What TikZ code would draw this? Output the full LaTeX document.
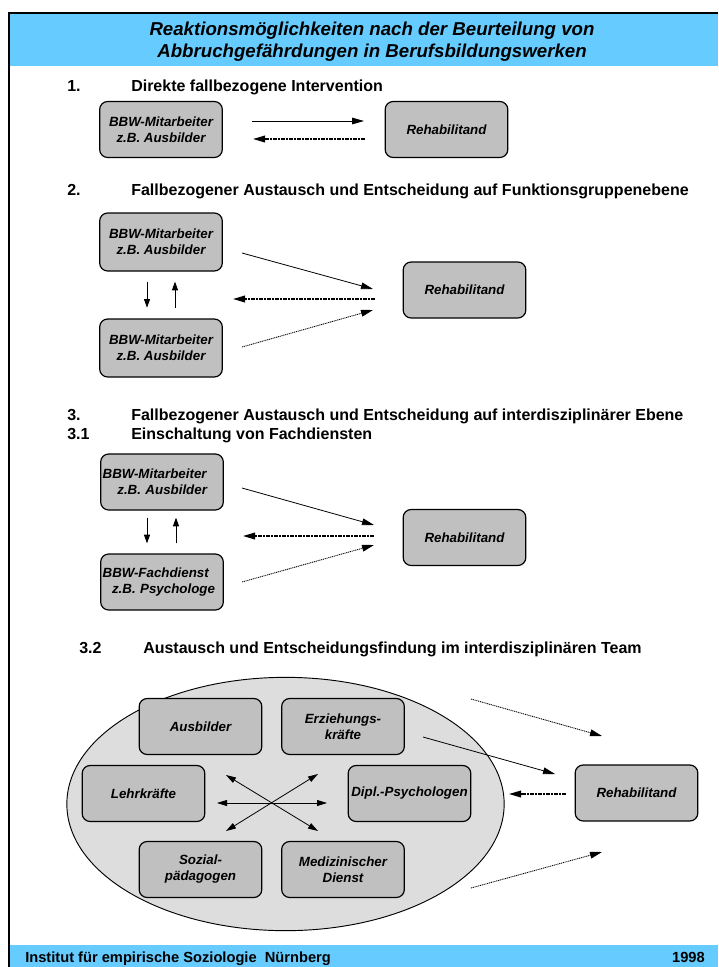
\documentclass[tikz,border=0pt]{standalone}
\usepackage{fontspec}
\setmainfont{Liberation Sans}
\usetikzlibrary{arrows.meta,shapes.geometric}
\definecolor{bandblue}{HTML}{66CCFF}
\definecolor{boxgray}{HTML}{C0C0C0}
\definecolor{teamgray}{HTML}{DDDDDD}
\tikzset{
  box/.style={rectangle, rounded corners=6pt, draw=black, line width=0.9pt, fill=boxgray, minimum width=92pt, minimum height=42pt, inner sep=2pt, align=center, font=\fontsize{10}{12}\selectfont\bfseries\itshape},
  boxl/.style={box, align=left, text width=89pt, inner xsep=1pt},
  team/.style={ellipse, draw=black, line width=0.7pt, fill=teamgray, minimum width=328pt, minimum height=190pt, inner sep=0pt},
  arr/.style={-{Triangle[length=9pt,width=5pt]}, draw=black, line width=0.6pt},
  darr/.style={arr, line width=1.1pt, dash pattern=on 3pt off 1pt on 1pt off 1pt},
  parr/.style={arr, line width=0.65pt, draw=black, dash pattern=on 0.8pt off 0.6pt},
  varr/.style={-{Triangle[length=6.5pt,width=4.5pt]}, draw=black, line width=0.7pt},
  xarr/.style={{Triangle[length=7.5pt,width=4.5pt]}-{Triangle[length=7.5pt,width=4.5pt]}, draw=black, line width=0.6pt},
  hdr/.style={font=\fontsize{12}{14}\selectfont\bfseries, anchor=base west, inner sep=0pt},
  ttl/.style={font=\fontsize{14}{16.5}\selectfont\bfseries\itshape, align=center, inner sep=0pt},
  foot/.style={font=\fontsize{11}{13}\selectfont\bfseries, inner sep=0pt},
}

\begin{document}
\begin{tikzpicture}[x=0.75pt,y=-0.75pt]
  \useasboundingbox (0,0) rectangle (718,967);
  % frame and bands
  \fill[bandblue] (10,14) rectangle (718,66);
  \fill[bandblue] (10,945) rectangle (718,967);
  \draw[line width=1.5pt] (9,967) -- (9,13) -- (718,13);
  \node[ttl] (title) at (372,41.5) {Reaktionsmöglichkeiten nach der Beurteilung von\\Abbruchgefährdungen in Berufsbildungswerken};
  \node[foot, anchor=base west] (inst) at (25,962) {Institut für empirische Soziologie\ \ Nürnberg};
  \node[foot, anchor=base east] (year) at (705,962) {1998};
  % 1.
  \node[hdr] (h1n) at (67,91) {1.};
  \node[hdr] (h1t) at (131,91) {Direkte fallbezogene Intervention};
  \node[box] (bbwA) at (161,129.5) {BBW-Mitarbeiter\\z.B. Ausbilder};
  \node[box] (rehA) at (446.5,129.5) {Rehabilitand};
  \coordinate (a1s) at (252,121);
  \coordinate (a1e) at (364,121);
  \coordinate (b1s) at (365,139);
  \coordinate (b1e) at (253,139);
  \draw[arr] (a1s) -- (a1e);
  \draw[darr] (b1s) -- (b1e);
  % 2.
  \node[hdr] (h2n) at (67,195) {2.};
  \node[hdr] (h2t) at (131,195) {Fallbezogener Austausch und Entscheidung auf Funktionsgruppenebene};
  \node[box, minimum height=43.5pt] (bbwB) at (161,242) {BBW-Mitarbeiter\\z.B. Ausbilder};
  \node[box, minimum height=43.5pt] (bbwC) at (161,348) {BBW-Mitarbeiter\\z.B. Ausbilder};
  \node[box] (rehB) at (464.5,290) {Rehabilitand};
  \draw[varr, shorten <=7.5pt, shorten >=8pt] ([xshift=-10.5pt]bbwB.south) -- ([xshift=-10.5pt]bbwC.north);
  \draw[varr, shorten <=8pt, shorten >=7.5pt] ([xshift=10.5pt]bbwC.north) -- ([xshift=10.5pt]bbwB.south);
  \coordinate (a2s) at (242,253);
  \coordinate (a2e) at (373,289);
  \coordinate (b2s) at (375,299);
  \coordinate (b2e) at (233,299);
  \coordinate (c2s) at (242,347);
  \coordinate (c2e) at (373,310);
  \draw[arr] (a2s) -- (a2e);
  \draw[darr] (b2s) -- (b2e);
  \draw[parr] (c2s) -- (c2e);
  % 3. / 3.1
  \node[hdr] (h3n) at (67,420) {3.};
  \node[hdr] (h3t) at (131,420) {Fallbezogener Austausch und Entscheidung auf interdisziplinärer Ebene};
  \node[hdr] (h31n) at (67,439) {3.1};
  \node[hdr] (h31t) at (131,439) {Einschaltung von Fachdiensten};
  \node[boxl] (bbwD) at (162,482) {BBW-Mitarbeiter\\\hspace*{1.1em}z.B. Ausbilder};
  \node[boxl] (fachE) at (162,582) {BBW-Fachdienst\\\hspace*{0.7em}z.B. Psychologe};
  \node[box] (rehC) at (464.5,537.5) {Rehabilitand};
  \draw[varr, shorten <=5.25pt, shorten >=7.5pt] ([xshift=-11.25pt]bbwD.south) -- ([xshift=-11.25pt]fachE.north);
  \draw[varr, shorten <=7.5pt, shorten >=5.25pt] ([xshift=10.5pt]fachE.north) -- ([xshift=10.5pt]bbwD.south);
  \coordinate (a3s) at (242,488);
  \coordinate (a3e) at (374,525);
  \coordinate (b3s) at (374,536);
  \coordinate (b3e) at (243,536);
  \coordinate (c3s) at (242,582);
  \coordinate (c3e) at (374,545);
  \draw[arr] (a3s) -- (a3e);
  \draw[darr] (b3s) -- (b3e);
  \draw[parr] (c3s) -- (c3e);
  % 3.2
  \node[hdr] (h32n) at (79,653) {3.2};
  \node[hdr] (h32t) at (143,653) {Austausch und Entscheidungsfindung im interdisziplinären Team};
  \node[team] (team) at (285.5,804) {};
  \node[box] (ausb) at (200.5,726.5) {Ausbilder};
  \node[box] (erzk) at (343,726.5) {Erziehungs-\\kräfte};
  \node[box] (lehr) at (143.5,793.5) {Lehrkräfte};
  \node[box] (psyc) at (409.5,793.5) {Dipl.-Psychologen};
  \node[box] (sozp) at (200.5,869.5) {Sozial-\\pädagogen};
  \node[box] (medd) at (343,869.5) {Medizinischer\\Dienst};
  \node[box] (rehD) at (636.5,793) {Rehabilitand};
  \coordinate (xw) at (217,803);
  \coordinate (xe) at (327,803);
  \coordinate (xnw) at (226,775);
  \coordinate (xse) at (318,831);
  \coordinate (xne) at (318,774);
  \coordinate (xsw) at (226,831);
  \draw[xarr] (xw) -- (xe);
  \draw[xarr] (xnw) -- (xse);
  \draw[xarr] (xne) -- (xsw);
  \coordinate (a4s) at (423,737);
  \coordinate (a4e) at (555,774);
  \coordinate (b4s) at (566,794);
  \coordinate (b4e) at (509,794);
  \coordinate (c4s) at (471,699);
  \coordinate (c4e) at (602,736);
  \coordinate (d4s) at (471,888);
  \coordinate (d4e) at (602,852);
  \draw[arr] (a4s) -- (a4e);
  \draw[darr] (b4s) -- (b4e);
  \draw[parr] (c4s) -- (c4e);
  \draw[parr] (d4s) -- (d4e);
\end{tikzpicture}
\end{document}
